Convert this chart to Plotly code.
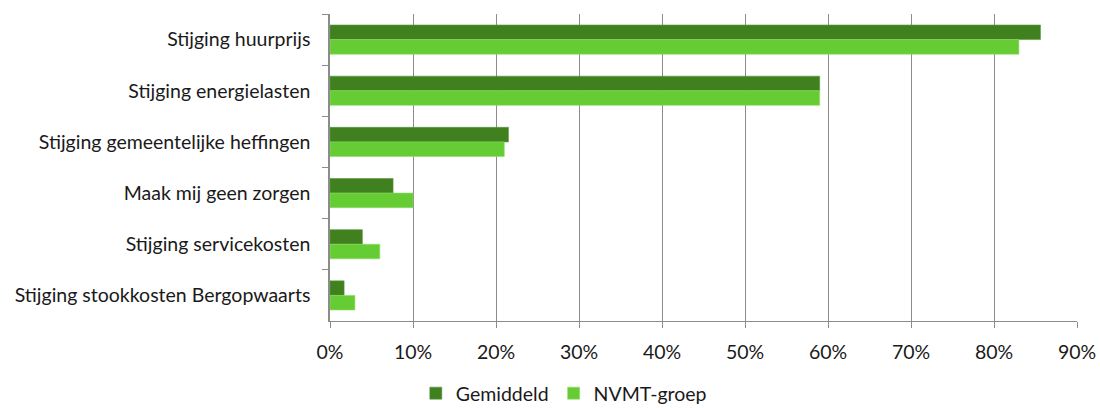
import plotly.graph_objects as go

categories = [
    "Stijging huurprijs",
    "Stijging energielasten",
    "Stijging gemeentelijke heffingen",
    "Maak mij geen zorgen",
    "Stijging servicekosten",
    "Stijging stookkosten Bergopwaarts",
]
gemiddeld = [0.856, 0.590, 0.215, 0.076, 0.039, 0.017]
nvmt_groep = [0.830, 0.590, 0.210, 0.100, 0.060, 0.030]
x_ticks = [0, 0.1, 0.2, 0.3, 0.4, 0.5, 0.6, 0.7, 0.8, 0.9]

FONT = "Lato"
FSIZE = 19.5

fig = go.Figure()
fig.add_trace(go.Bar(
    y=categories, x=gemiddeld, orientation="h", name="Gemiddeld",
    marker=dict(color="#41801F", line=dict(color="#5A9A3A", width=0.6)),
))
fig.add_trace(go.Bar(
    y=categories, x=nvmt_groep, orientation="h", name="NVMT-groep",
    marker=dict(color="#66CC33", line=dict(color="#8FDD6A", width=0.6)),
))

fig.update_layout(
    width=1100, height=408,
    margin=dict(l=330, r=23, t=14, b=87, autoexpand=False),
    paper_bgcolor="white", plot_bgcolor="white",
    barmode="group", bargap=0.43, bargroupgap=0,
    font=dict(family=FONT, size=FSIZE, color="#1a1a1a"),
    showlegend=True,
    legend=dict(orientation="h", x=0.313, xanchor="center", xref="paper",
                y=-0.236, yanchor="middle", yref="paper",
                font=dict(family=FONT, size=FSIZE, color="#1a1a1a"),
                itemwidth=30, traceorder="normal", tracegroupgap=0,
                borderwidth=0),
)
fig.update_xaxes(
    range=[0, 0.9], tickvals=x_ticks, tickformat=".0%",
    showgrid=True, gridcolor="#8c8c8c", gridwidth=1,
    showline=True, linecolor="#8c8c8c", linewidth=1,
    ticks="outside", ticklen=6, tickcolor="#8c8c8c",
    ticklabelstandoff=8,
    zeroline=False, fixedrange=True, automargin=False,
)
fig.update_yaxes(
    autorange="reversed", type="category",
    showgrid=False, showline=True, linecolor="#8c8c8c", linewidth=1.5,
    ticks="outside", ticklen=6, tickcolor="#8c8c8c", tickson="boundaries",
    ticklabelstandoff=14, automargin=False,
)

fig.write_html("out.html")
